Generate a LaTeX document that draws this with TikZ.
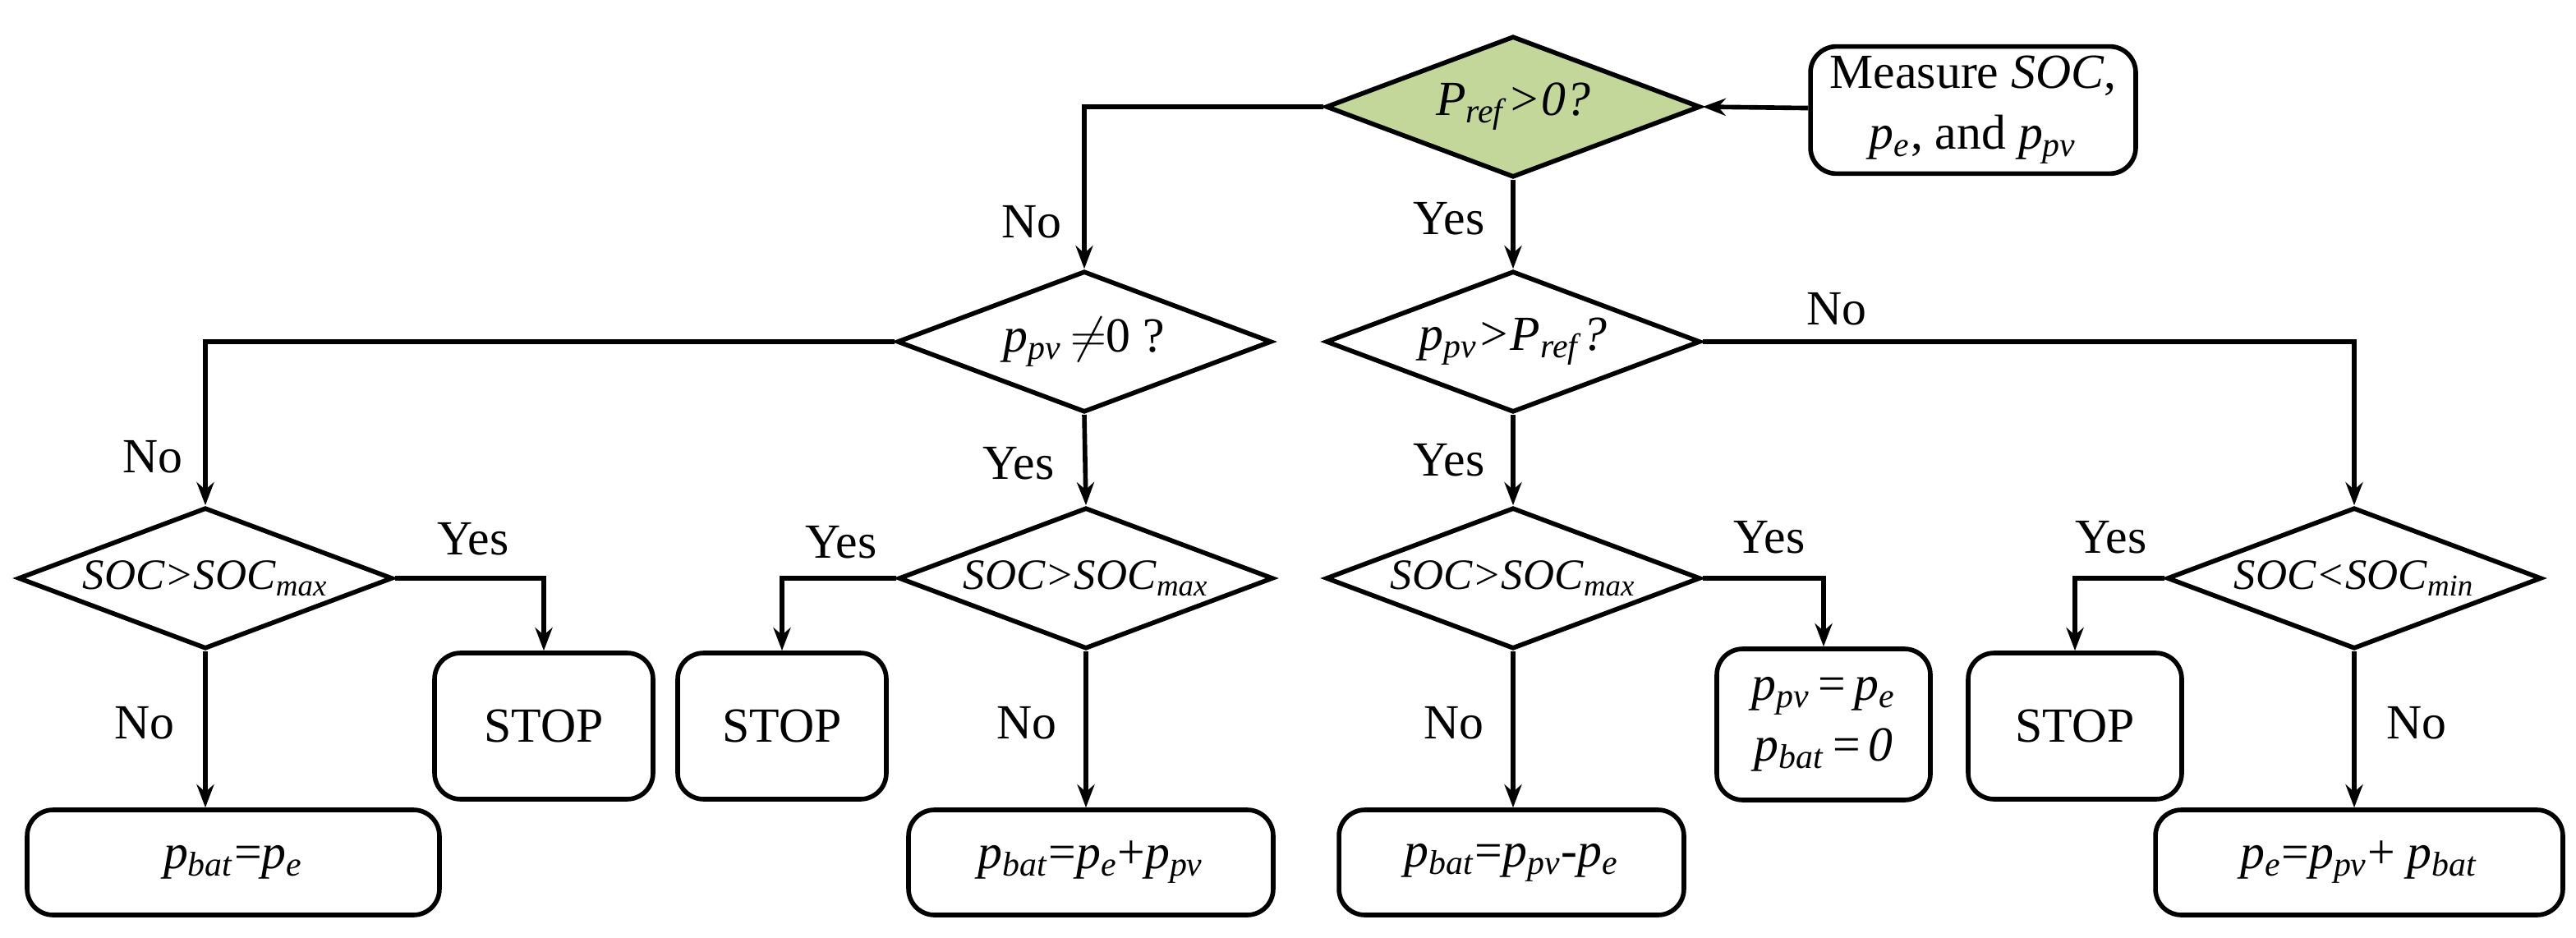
\documentclass[tikz,border=0pt]{standalone}
\usepackage{fontspec}
\setmainfont{Liberation Serif}
\usetikzlibrary{shapes.geometric,arrows.meta}
\newcommand\vv[2]{\textit{#1}\textsubscript{\textit{#2}}}
\definecolor{dgreen}{HTML}{C4D79B}
\begin{document}
\begin{tikzpicture}[x=0.02cm,y=-0.02cm,line width=1.6pt,
  dia/.style={diamond,draw,inner sep=0pt,shape aspect=2.64,minimum width=4.56cm,minimum height=1.72cm,font=\fontsize{15}{18}\selectfont},
  box/.style={draw,rounded corners=9pt,align=center,font=\fontsize{17}{21}\selectfont},
  lab/.style={font=\fontsize{17}{20}\selectfont},
  arr/.style={-{Stealth[length=8pt,width=6pt]}}]
\useasboundingbox (0,0) rectangle (1568,571);
\node[dia,fill=dgreen,font=\fontsize{17}{20}\selectfont] (d1) at (921,65) {\vv{P}{ref}\textit{>0?}};
\node[box,minimum width=3.96cm,minimum height=1.48cm] (m) at (1201,67) {Measure \textit{SOC},\\ \vv{p}{e}, and \vv{p}{pv}};
\node[dia,font=\fontsize{17}{20}\selectfont] (d2) at (660,208) {\vv{p}{pv}\,$\neq$0 ?};
\node[dia,font=\fontsize{17}{20}\selectfont] (d3) at (921,208) {\vv{p}{pv}\textit{>}\vv{P}{ref}\textit{?}};
\node[dia] (d4) at (125,352) {\textit{SOC>}\vv{SOC}{max}};
\node[dia] (d5) at (661,352) {\textit{SOC>}\vv{SOC}{max}};
\node[dia] (d6) at (921,352) {\textit{SOC>}\vv{SOC}{max}};
\node[dia] (d7) at (1433,352) {\textit{SOC<}\vv{SOC}{min}};
\node[box,minimum width=2.66cm,minimum height=1.78cm] (s1) at (331,442) {STOP};
\node[box,minimum width=2.54cm,minimum height=1.78cm] (s2) at (476,442) {STOP};
\node[box,minimum width=2.6cm,minimum height=1.78cm] (s3) at (1263,442) {STOP};
\node[box,minimum width=2.6cm,minimum height=1.84cm] (q) at (1110,441) {\vv{p}{pv}\,=\,\vv{p}{e}\\ \vv{p}{bat}\,=\,\textit{0}};
\node[box,minimum width=5.02cm,minimum height=1.28cm] (b1) at (142,525) {\vv{p}{bat}=\vv{p}{e}};
\node[box,minimum width=4.44cm,minimum height=1.28cm] (b2) at (664,525) {\vv{p}{bat}=\vv{p}{e}+\vv{p}{pv}};
\node[box,minimum width=4.2cm,minimum height=1.28cm] (b3) at (920,525) {\vv{p}{bat}=\vv{p}{pv}-\vv{p}{e}};
\node[box,minimum width=4.96cm,minimum height=1.28cm] (b4) at (1436,525) {\vv{p}{e}=\vv{p}{pv}+ \vv{p}{bat}};
\draw[arr] (m) -- (d1.east);
\draw[arr] (d1.west) -| (d2.north);
\draw[arr] (d1.south) -- (d3.north);
\draw[arr] (d2.west) -| (d4.north);
\draw[arr] (d2.south) -- (d5.north);
\draw[arr] (d3.east) -| (d7.north);
\draw[arr] (d3.south) -- (d6.north);
\draw[arr] (d4.east) -| (s1.north);
\draw[arr] (d4.south) -- (d4.south|-b1.north);
\draw[arr] (d5.west) -| (s2.north);
\draw[arr] (d5.south) -- (d5.south|-b2.north);
\draw[arr] (d6.east) -| (q.north);
\draw[arr] (d6.south) -- (d6.south|-b3.north);
\draw[arr] (d7.west) -| (s3.north);
\draw[arr] (d7.south) -- (d7.south|-b4.north);
\node[lab] (l1) at (628,135) {No};
\node[lab] (l2) at (882,133) {Yes};
\node[lab] (l3) at (93,278) {No};
\node[lab] (l4) at (620,282) {Yes};
\node[lab] (l5) at (1118,188) {No};
\node[lab] (l6) at (882,280) {Yes};
\node[lab] (l7) at (288,328) {Yes};
\node[lab] (l8) at (88,440) {No};
\node[lab] (l9) at (512,330) {Yes};
\node[lab] (l10) at (625,440) {No};
\node[lab] (l11) at (1077,327) {Yes};
\node[lab] (l12) at (885,440) {No};
\node[lab] (l13) at (1285,327) {Yes};
\node[lab] (l14) at (1471,440) {No};
\end{tikzpicture}
\end{document}
